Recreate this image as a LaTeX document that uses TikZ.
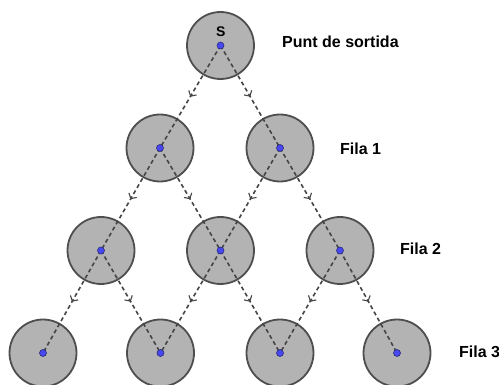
\documentclass[tikz,border=0pt]{standalone}
\usepackage{fontspec}
\setmainfont{Liberation Sans}
\usetikzlibrary{arrows.meta,decorations.markings}
\definecolor{discgray}{HTML}{B3B3B3}
\definecolor{rim}{HTML}{4E4E4E}
\definecolor{edgegray}{HTML}{454545}
\definecolor{dotblue}{HTML}{4848F0}
\definecolor{dotrim}{HTML}{2A2A7A}
\begin{document}
\begin{tikzpicture}[x=1pt,y=-1pt,
  disc/.style={circle, draw=rim, line width=1.8pt, fill=discgray, minimum size=67pt, inner sep=0pt},
  dotnode/.style={circle, draw=dotrim, line width=0.6pt, fill=dotblue, minimum size=7pt, inner sep=0pt},
  link/.style={color=edgegray, line width=1.6pt, dash pattern=on 4pt off 3pt,
    postaction={decorate},
    decoration={markings, mark=at position 0.5 with {\arrow[solid]{Straight Barb[length=4pt,width=9pt,line width=1.1pt]}}}},
  lab/.style={font=\bfseries\fontsize{16}{18}\selectfont, anchor=base west, inner sep=0pt}]
\useasboundingbox (0,0) rectangle (499,385);
% discs
\node[disc] (dS) at (220.5,45.5) {};
\node[disc] (dA1) at (160,148) {};
\node[disc] (dA2) at (280,148) {};
\node[disc] (dB1) at (101,250.5) {};
\node[disc] (dB2) at (220.5,250.5) {};
\node[disc] (dB3) at (340,250.5) {};
\node[disc] (dC1) at (43,353) {};
\node[disc] (dC2) at (160.5,353) {};
\node[disc] (dC3) at (280,353) {};
\node[disc] (dC4) at (397,353) {};
% centre points (coordinates)
\coordinate (S) at (dS.center);
\coordinate (A1) at (dA1.center);
\coordinate (A2) at (dA2.center);
\coordinate (B1) at (dB1.center);
\coordinate (B2) at (dB2.center);
\coordinate (B3) at (dB3.center);
\coordinate (C1) at (dC1.center);
\coordinate (C2) at (dC2.center);
\coordinate (C3) at (dC3.center);
\coordinate (C4) at (dC4.center);
% connectors
\draw[link] (S) -- (A1);
\draw[link] (S) -- (A2);
\draw[link] (A1) -- (B1);
\draw[link] (A1) -- (B2);
\draw[link] (A2) -- (B2);
\draw[link] (A2) -- (B3);
\draw[link] (B1) -- (C1);
\draw[link] (B1) -- (C2);
\draw[link] (B2) -- (C2);
\draw[link] (B2) -- (C3);
\draw[link] (B3) -- (C3);
\draw[link] (B3) -- (C4);
% dots
\foreach \p in {S,A1,A2,B1,B2,B3,C1,C2,C3,C4}
  \node[dotnode] (p\p) at (\p) {};
% labels
\node[font=\bfseries\fontsize{14}{16}\selectfont, anchor=base, inner sep=0pt] (sl) at (220.7,36.5) {S};
\node[lab] (l0) at (282,47.5) {Punt de sortida};
\node[lab] (l1) at (340,154.5) {Fila 1};
\node[lab] (l2) at (400,254.5) {Fila 2};
\node[lab] (l3) at (459,358) {Fila 3};
\end{tikzpicture}
\end{document}
